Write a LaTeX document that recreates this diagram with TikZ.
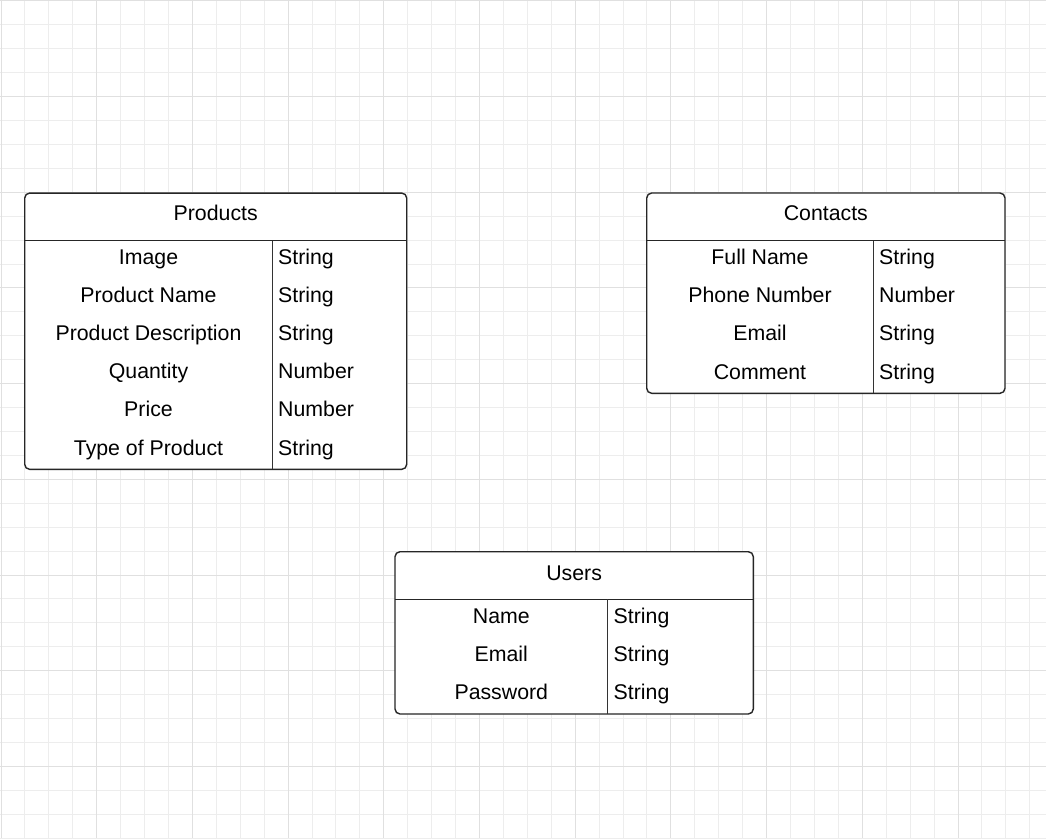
\documentclass[tikz,border=0pt]{standalone}
\usepackage{fontspec}
\setmainfont{Liberation Sans}
\begin{document}
\begin{tikzpicture}[x=1pt,y=-1pt,
  minorgrid/.style={draw=black!7, line width=1pt},
  majorgrid/.style={draw=black!12, line width=1pt},
  tablebox/.style={draw=black!85, line width=1.4pt, rounded corners=5pt, fill=white, inner sep=0pt, outer sep=0pt},
  sepline/.style={draw=black!85, line width=1.4pt},
  divline/.style={draw=black!80, line width=1.4pt},
  lbl/.style={font=\fontsize{21.3}{25}\selectfont, inner sep=0pt, anchor=base},
  typ/.style={font=\fontsize{21.3}{25}\selectfont, inner sep=0pt, anchor=base west}
]
\useasboundingbox (0,0) rectangle (1046,838);
\fill[white] (0,0) rectangle (1046,838);
% grid
\foreach \i in {0,...,44}{
  \pgfmathsetmacro{\xx}{1+\i*23.925}
  \draw[minorgrid] (\xx,0) -- (\xx,838);
}
\foreach \i in {0,...,35}{
  \pgfmathsetmacro{\yy}{0.85+\i*23.925}
  \draw[minorgrid] (0,\yy) -- (1046,\yy);
}
\foreach \i in {0,...,11}{
  \pgfmathsetmacro{\xx}{1+\i*95.7}
  \draw[majorgrid] (\xx,0) -- (\xx,838);
}
\foreach \i in {0,...,8}{
  \pgfmathsetmacro{\yy}{0.85+\i*95.7}
  \draw[majorgrid] (0,\yy) -- (1046,\yy);
}

% ---------- Products ----------
\node[tablebox, minimum width=382pt, minimum height=276.3pt] (prod) at (215.7,331.2) {};
\coordinate (prodHL) at (24.7,240.7);
\coordinate (prodHR) at (406.7,240.7);
\coordinate (prodDT) at (272.3,240.7);
\coordinate (prodDB) at (272.3,469.3);
\draw[sepline] (prodHL) -- (prodHR);
\draw[divline] (prodDT) -- (prodDB);
\node[lbl] (prodT) at (215.7,220.7) {Products};
\node[lbl] (p1) at (148.5,264.5) {Image};
\node[lbl] (p2) at (148.5,302.6) {Product Name};
\node[lbl] (p3) at (148.5,340.7) {Product Description};
\node[lbl] (p4) at (148.5,378.8) {Quantity};
\node[lbl] (p5) at (148.5,416.9) {Price};
\node[lbl] (p6) at (148.5,455) {Type of Product};
\node[typ] (pt1) at (278,264.5) {String};
\node[typ] (pt2) at (278,302.6) {String};
\node[typ] (pt3) at (278,340.7) {String};
\node[typ] (pt4) at (278,378.8) {Number};
\node[typ] (pt5) at (278,416.9) {Number};
\node[typ] (pt6) at (278,455) {String};

% ---------- Contacts ----------
\node[tablebox, minimum width=358.3pt, minimum height=200.3pt] (cont) at (825.85,293.15) {};
\coordinate (contHL) at (646.7,240.7);
\coordinate (contHR) at (1005,240.7);
\coordinate (contDT) at (873.3,240.7);
\coordinate (contDB) at (873.3,393.3);
\draw[sepline] (contHL) -- (contHR);
\draw[divline] (contDT) -- (contDB);
\node[lbl] (contT) at (825.85,220.7) {Contacts};
\node[lbl] (c1) at (760,264.5) {Full Name};
\node[lbl] (c2) at (760,302.7) {Phone Number};
\node[lbl] (c3) at (760,340.9) {Email};
\node[lbl] (c4) at (760,379) {Comment};
\node[typ] (ct1) at (879,264.5) {String};
\node[typ] (ct2) at (879,302.7) {Number};
\node[typ] (ct3) at (879,340.9) {String};
\node[typ] (ct4) at (879,379) {String};

% ---------- Users ----------
\node[tablebox, minimum width=358.3pt, minimum height=162.3pt] (usr) at (574.15,632.85) {};
\coordinate (usrHL) at (395,599.3);
\coordinate (usrHR) at (753.3,599.3);
\coordinate (usrDT) at (607.7,599.3);
\coordinate (usrDB) at (607.7,714);
\draw[sepline] (usrHL) -- (usrHR);
\draw[divline] (usrDT) -- (usrDB);
\node[lbl] (usrT) at (574.15,580) {Users};
\node[lbl] (u1) at (501.3,623.5) {Name};
\node[lbl] (u2) at (501.3,661.5) {Email};
\node[lbl] (u3) at (501.3,699.5) {Password};
\node[typ] (ut1) at (613.5,623.5) {String};
\node[typ] (ut2) at (613.5,661.5) {String};
\node[typ] (ut3) at (613.5,699.5) {String};
\end{tikzpicture}
\end{document}
